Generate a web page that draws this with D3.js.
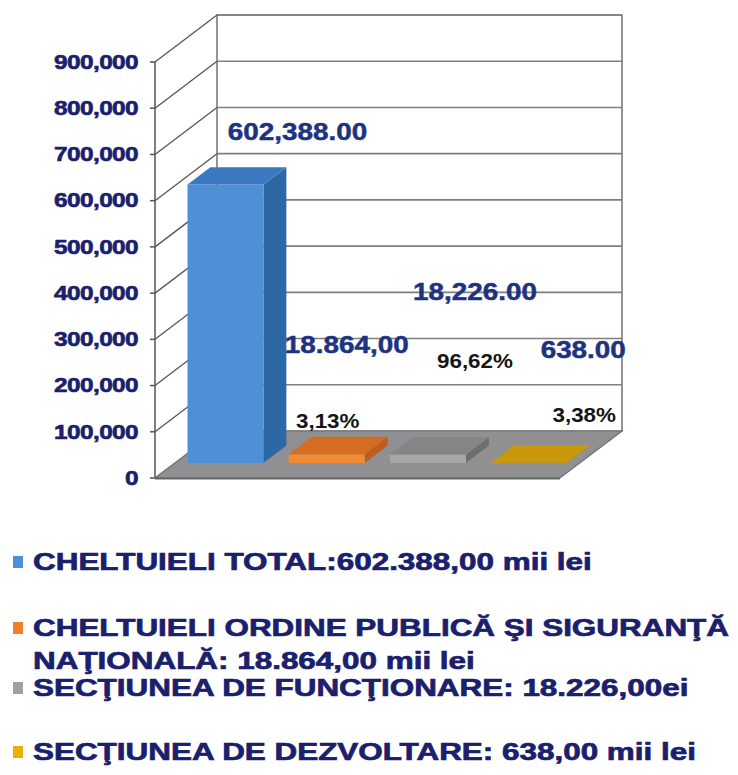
<!DOCTYPE html>
<html><head><meta charset="utf-8">
<script src="https://cdn.jsdelivr.net/npm/d3@7"></script>
<style>html,body{margin:0;padding:0;background:#fff;} svg{display:block}</style>
</head><body>
<svg id="chart" width="738" height="775"></svg>
<script>
// ---------- DATA ----------
const categories = [
  "CHELTUIELI TOTAL",
  "CHELTUIELI ORDINE PUBLICĂ ŞI SIGURANŢĂ NAŢIONALĂ",
  "SECŢIUNEA DE FUNCŢIONARE",
  "SECŢIUNEA DE DEZVOLTARE"
];
const values = [602388, 18864, 18226, 638];
const valueLabels = ["602,388.00", "18.864,00", "18,226.00", "638.00"];
const percentLabels = [null, "3,13%", "96,62%", "3,38%"];
const yTicks = [0, 100000, 200000, 300000, 400000, 500000, 600000, 700000, 800000, 900000];
const yTickLabels = ["0", "100,000", "200,000", "300,000", "400,000", "500,000", "600,000", "700,000", "800,000", "900,000"];
const legendTexts = [
  ["CHELTUIELI TOTAL:602.388,00 mii lei"],
  ["CHELTUIELI ORDINE PUBLICĂ ŞI SIGURANŢĂ", "NAŢIONALĂ: 18.864,00 mii lei"],
  ["SECŢIUNEA DE FUNCŢIONARE: 18.226,00ei"],
  ["SECŢIUNEA DE DEZVOLTARE: 638,00 mii lei"]
];

// ---------- STYLE / LAYOUT ----------
const palette = [
  {front: "#4d90d6", side: "#2c68a5", top: "#3a79c2"},
  {front: "#f28a34", side: "#bf5e1c", top: "#d46c22"},
  {front: "#a6a6a6", side: "#6e6e6e", top: "#858585"},
  {front: "#e2aa06", side: "#a67c00", top: "#c9980a"}
];
const legendSwatch = ["#4a8fd8", "#f07f2e", "#a0a0a0", "#e8b000"];
const navy = "#1a206c";
const labelNavy = "#1e3380";
const FONT = "'Liberation Sans', Arial, sans-serif";

const X0 = 155, W = 405, DX = 62, DY = 47;
const zFront = 0.32, zBack = 0.69;

const svg = d3.select("#chart");
svg.append("rect").attr("width", 738).attr("height", 775).attr("fill", "#fff");

const y = d3.scaleLinear().domain([0, 900000]).range([478, 62]);
const x = d3.scaleBand().domain(categories).range([0, W]).paddingInner(0.25).paddingOuter(0.125);

const P = (px, v, z) => [X0 + px + z * DX, y(v) - z * DY];
const poly = pts => "M" + pts.map(p => p.join(",")).join("L") + "Z";

// back wall
const vmax = y.domain()[1];
svg.append("path")
  .attr("d", poly([P(0, 0, 1), P(0, vmax, 1), P(W, vmax, 1), P(W, 0, 1)]))
  .attr("fill", "#fff").attr("stroke", "#7a7a7a").attr("stroke-width", 1.6);

// gridlines on back wall
svg.append("g").selectAll("line").data(yTicks.slice(1)).join("line")
  .attr("x1", d => P(0, d, 1)[0]).attr("y1", d => P(0, d, 1)[1])
  .attr("x2", d => P(W, d, 1)[0]).attr("y2", d => P(W, d, 1)[1])
  .attr("stroke", "#7f7f7f").attr("stroke-width", 1.6);

// left wall diagonals
svg.append("g").selectAll("line").data(yTicks.slice(1)).join("line")
  .attr("x1", d => P(0, d, 0)[0]).attr("y1", d => P(0, d, 0)[1])
  .attr("x2", d => P(0, d, 1)[0]).attr("y2", d => P(0, d, 1)[1])
  .attr("stroke", "#555").attr("stroke-width", 1.3);

// front axis line
svg.append("line")
  .attr("x1", X0).attr("y1", y(0)).attr("x2", X0).attr("y2", y(vmax))
  .attr("stroke", "#555").attr("stroke-width", 1.5);

// ticks
svg.append("g").selectAll("line").data(yTicks).join("line")
  .attr("x1", X0 - 5).attr("x2", X0).attr("y1", d => y(d)).attr("y2", d => y(d))
  .attr("stroke", "#555").attr("stroke-width", 1.5);

// tick labels
svg.append("g").selectAll("text").data(yTicks).join("text")
  .attr("transform", d => `translate(138,${y(d)}) scale(1.22,1)`)
  .attr("text-anchor", "end").attr("dominant-baseline", "central")
  .attr("font-family", FONT).attr("font-weight", "bold").attr("font-size", 20)
  .attr("fill", navy).attr("stroke", navy).attr("stroke-width", 0.6)
  .attr("letter-spacing", -0.5)
  .text((d, i) => yTickLabels[i]);

// floor
svg.append("path")
  .attr("d", poly([P(0, 0, 0), P(W, 0, 0), P(W, 0, 1), P(0, 0, 1)]))
  .attr("fill", "#909092").attr("stroke", "#707070").attr("stroke-width", 1.2);
svg.append("line")
  .attr("x1", P(0, 0, 0)[0]).attr("y1", P(0, 0, 0)[1] + 0.5)
  .attr("x2", P(W, 0, 0)[0]).attr("y2", P(W, 0, 0)[1] + 0.5)
  .attr("stroke", "#666").attr("stroke-width", 2);

// bars
const bw = x.bandwidth();
const bars = svg.append("g").selectAll("g").data(values).join("g");
bars.append("path").attr("d", (v, i) => {
  const x1 = x(categories[i]) + bw;
  return poly([P(x1, 0, zFront), P(x1, v, zFront), P(x1, v, zBack), P(x1, 0, zBack)]);
}).attr("fill", (v, i) => palette[i].side);
bars.append("path").attr("d", (v, i) => {
  const xa = x(categories[i]);
  return poly([P(xa, 0, zFront), P(xa + bw, 0, zFront), P(xa + bw, v, zFront), P(xa, v, zFront)]);
}).attr("fill", (v, i) => palette[i].front);
bars.append("path").attr("d", (v, i) => {
  const xa = x(categories[i]);
  return poly([P(xa, v, zFront), P(xa + bw, v, zFront), P(xa + bw, v, zBack), P(xa, v, zBack)]);
}).attr("fill", (v, i) => palette[i].top);

// data labels (offsets from bar front-top centre)
const valueOffsets = [[72, -53], [20, -110], [47, -163], [54, -113]];
const pctOffsets = [null, [1, -33], [47, -94], [55, -48]];
const anchor = i => P(x(categories[i]) + bw / 2, values[i], zFront);

svg.append("g").selectAll("text").data(values).join("text")
  .attr("transform", (v, i) => {
    const a = anchor(i);
    return `translate(${a[0] + valueOffsets[i][0]},${a[1] + valueOffsets[i][1]}) scale(1.16,1)`;
  })
  .attr("text-anchor", "middle").attr("dominant-baseline", "central")
  .attr("font-family", FONT).attr("font-weight", "bold").attr("font-size", 24)
  .attr("fill", labelNavy).attr("stroke", labelNavy).attr("stroke-width", 0.5)
  .text((v, i) => valueLabels[i]);

svg.append("g").selectAll("text").data(values.map((v, i) => i).filter(i => percentLabels[i])).join("text")
  .attr("transform", i => {
    const a = anchor(i);
    return `translate(${a[0] + pctOffsets[i][0]},${a[1] + pctOffsets[i][1]}) scale(1.12,1)`;
  })
  .attr("text-anchor", "middle").attr("dominant-baseline", "central")
  .attr("font-family", FONT).attr("font-weight", "bold").attr("font-size", 20)
  .attr("fill", "#151515")
  .text(i => percentLabels[i]);

// legend
const legendLineY = [[562], [628, 661], [688], [752]];
const lg = svg.append("g").selectAll("g").data(legendTexts).join("g");
lg.append("rect")
  .attr("x", 13).attr("y", (d, i) => legendLineY[i][0] - 6)
  .attr("width", 10).attr("height", 12)
  .attr("fill", (d, i) => legendSwatch[i]);
lg.selectAll("text").data((d, i) => d.map((t, j) => ({t, yy: legendLineY[i][j]}))).join("text")
  .attr("transform", d => `translate(33,${d.yy}) scale(1.31,1)`)
  .attr("dominant-baseline", "central")
  .attr("font-family", FONT).attr("font-weight", "bold").attr("font-size", 24)
  .attr("fill", navy).attr("stroke", navy).attr("stroke-width", 0.7)
  .text(d => d.t);
</script>
</body></html>
